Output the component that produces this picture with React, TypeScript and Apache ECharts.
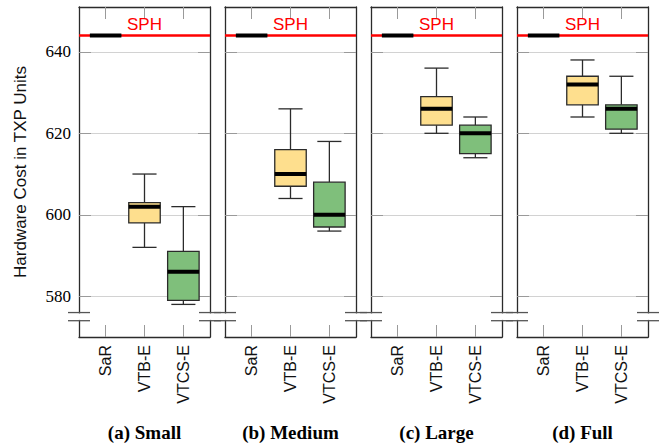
import React, { useEffect, useRef } from 'react';
import * as echarts from 'echarts';

// ---------- data ----------
const panelTitles = ['(a) Small', '(b) Medium', '(c) Large', '(d) Full'];
const methods = ['SaR', 'VTB-E', 'VTCS-E'];
const yTickValues = [580, 600, 620, 640];
const sphCost = 644;
// [min, Q1, median, Q3, max] per panel
const sarCost = [
  [644, 644, 644, 644, 644],
  [644, 644, 644, 644, 644],
  [644, 644, 644, 644, 644],
  [644, 644, 644, 644, 644],
];
const vtbECost = [
  [592, 598, 602, 603, 610],
  [604, 607, 610, 616, 626],
  [620, 622, 626, 629, 636],
  [624, 627, 632, 634, 638],
];
const vtcsECost = [
  [578, 579, 586, 591, 602],
  [596, 597, 600, 608, 618],
  [614, 615, 620, 622, 624],
  [620, 621, 626, 627, 634],
];
const methodColors = ['#000000', '#FEDF8E', '#7FBF7B'];
const yMin = 570;
const yMax = 651;
const breakUpper = 576;
const breakLower = 574;

// ---------- layout ----------
const PANEL_LEFT = 79;
const PANEL_STEP = 146;
const PANEL_W = 131;
const PANEL_TOP = 7;
const PANEL_H = 330;
const X_MIN = -0.685;
const X_MAX = 2.685;

const FRAME = '#2b2b2b';
const TICK = '#9a9a9a';
const GRIDC = '#d2d2d2';

export default function App() {
  const ref = useRef<HTMLDivElement>(null);

  useEffect(() => {
    const el = ref.current!;
    const chart = echarts.init(el, null, { renderer: 'svg' });

    const grids: any[] = [];
    const xAxes: any[] = [];
    const yAxes: any[] = [];
    const series: any[] = [];

    for (let i = 0; i < 4; i++) {
      const left = PANEL_LEFT + PANEL_STEP * i;
      grids.push({ left, top: PANEL_TOP, width: PANEL_W, height: PANEL_H, containLabel: false });

      const xCommon = {
        type: 'value',
        gridIndex: i,
        min: X_MIN,
        max: X_MAX,
        splitLine: { show: false },
        axisLine: { show: true, onZero: false, lineStyle: { color: FRAME, width: 1.3 } },
        axisTick: { show: true, inside: true, length: 12, customValues: [0, 1, 2], lineStyle: { color: TICK, width: 1 } },
      };
      xAxes.push({
        ...xCommon,
        position: 'bottom',
        axisLabel: {
          show: true,
          customValues: [0, 1, 2],
          rotate: 90,
          margin: 8,
          formatter: (v: number) => methods[Math.round(v)] ?? '',
          fontFamily: 'Liberation Sans',
          fontSize: 16,
          color: '#111',
        },
      });
      xAxes.push({ ...xCommon, position: 'top', axisLabel: { show: false } });

      const yCommon = {
        type: 'value',
        gridIndex: i,
        min: yMin,
        max: yMax,
        axisLine: { show: true, onZero: false, lineStyle: { color: FRAME, width: 1.3 } },
        axisTick: { show: true, inside: true, length: 12, customValues: yTickValues, lineStyle: { color: TICK, width: 1 } },
      };
      yAxes.push({
        ...yCommon,
        position: 'left',
        splitLine: { show: true, lineStyle: { color: GRIDC, width: 1 } },
        axisLabel: {
          show: i === 0,
          customValues: yTickValues,
          margin: 8,
          fontFamily: 'Liberation Serif',
          fontSize: 17,
          color: '#000',
        },
        name: i === 0 ? 'Hardware Cost in TXP Units' : '',
        nameLocation: 'middle',
        nameGap: 50,
        nameTextStyle: { fontFamily: 'Liberation Sans', fontSize: 17, color: '#111' },
      });
      yAxes.push({ ...yCommon, position: 'right', splitLine: { show: false }, axisLabel: { show: false } });

      // SPH reference line
      series.push({
        type: 'line',
        xAxisIndex: 2 * i,
        yAxisIndex: 2 * i,
        data: [],
        z: 1,
        markLine: {
          silent: true,
          z: 1,
          symbol: ['none', 'none'],
          data: [{ yAxis: sphCost }],
          lineStyle: { color: '#ff0000', width: 2.5, type: 'solid' },
          label: {
            show: true,
            formatter: 'SPH',
            position: 'insideMiddleTop',
            distance: 3,
            color: '#ff0000',
            fontFamily: 'Liberation Sans',
            fontSize: 17,
          },
        },
      });

      const rows = [sarCost[i], vtbECost[i], vtcsECost[i]].map((v, m) => [m, ...v, m]);
      series.push({
        type: 'custom',
        xAxisIndex: 2 * i,
        yAxisIndex: 2 * i,
        z: 10,
        dimensions: ['x', 'min', 'q1', 'med', 'q3', 'max', 'm'],
        encode: { x: 0, y: [1, 2, 3, 4, 5] },
        data: rows,
        renderItem: (params: any, api: any) => {
          const x = api.value(0);
          const m = api.value(6);
          const pMin = api.coord([x, api.value(1)]);
          const pQ1 = api.coord([x, api.value(2)]);
          const pMed = api.coord([x, api.value(3)]);
          const pQ3 = api.coord([x, api.value(4)]);
          const pMax = api.coord([x, api.value(5)]);
          const unit = api.size([1, 0])[0];
          const bw = unit * 0.81;
          const cw = unit * 0.62;
          const cx = pMed[0];
          const wStyle = { stroke: FRAME, lineWidth: 1.3 };
          return {
            type: 'group',
            children: [
              { type: 'line', shape: { x1: cx, y1: pQ3[1], x2: cx, y2: pMax[1] }, style: wStyle },
              { type: 'line', shape: { x1: cx, y1: pQ1[1], x2: cx, y2: pMin[1] }, style: wStyle },
              { type: 'line', shape: { x1: cx - cw / 2, y1: pMax[1], x2: cx + cw / 2, y2: pMax[1] }, style: wStyle },
              { type: 'line', shape: { x1: cx - cw / 2, y1: pMin[1], x2: cx + cw / 2, y2: pMin[1] }, style: wStyle },
              {
                type: 'rect',
                shape: { x: cx - bw / 2, y: pQ3[1], width: bw, height: pQ1[1] - pQ3[1] },
                style: { fill: methodColors[m], stroke: FRAME, lineWidth: 1.3 },
              },
              {
                type: 'line',
                shape: { x1: cx - bw / 2, y1: pMed[1], x2: cx + bw / 2, y2: pMed[1] },
                style: { stroke: '#000', lineWidth: 4 },
              },
            ],
          };
        },
      });
    }

    chart.setOption({
      animation: false,
      grid: grids,
      xAxis: xAxes,
      yAxis: yAxes,
      series,
    });

    // axis breaks + panel titles
    const graphics: any[] = [];
    for (let i = 0; i < 4; i++) {
      const yU = chart.convertToPixel({ yAxisIndex: 2 * i }, breakUpper) as number;
      const yL = chart.convertToPixel({ yAxisIndex: 2 * i }, breakLower) as number;
      const xl = chart.convertToPixel({ xAxisIndex: 2 * i }, X_MIN) as number;
      const xr = chart.convertToPixel({ xAxisIndex: 2 * i }, X_MAX) as number;
      [xl, xr].forEach((ex) => {
        graphics.push({
          type: 'rect',
          z: 100,
          shape: { x: ex - 2, y: yU + 0.8, width: 4, height: yL - yU - 1.6 },
          style: { fill: '#fff' },
        });
        [yU, yL].forEach((yy) => {
          graphics.push({
            type: 'line',
            z: 101,
            shape: { x1: ex - 11, y1: yy, x2: ex + 11, y2: yy },
            style: { stroke: '#555', lineWidth: 1.3 },
          });
        });
      });
      graphics.push({
        type: 'text',
        z: 101,
        x: (xl + xr) / 2,
        y: 432,
        style: {
          text: panelTitles[i],
          align: 'center',
          verticalAlign: 'middle',
          fontFamily: 'Liberation Serif',
          fontWeight: 'bold',
          fontSize: 19,
          fill: '#000',
        },
      });
    }
    chart.setOption({ graphic: graphics });

    return () => chart.dispose();
  }, []);

  return <div ref={ref} style={{ position: 'absolute', left: 0, top: 0, width: 660, height: 444 }} />;
}
